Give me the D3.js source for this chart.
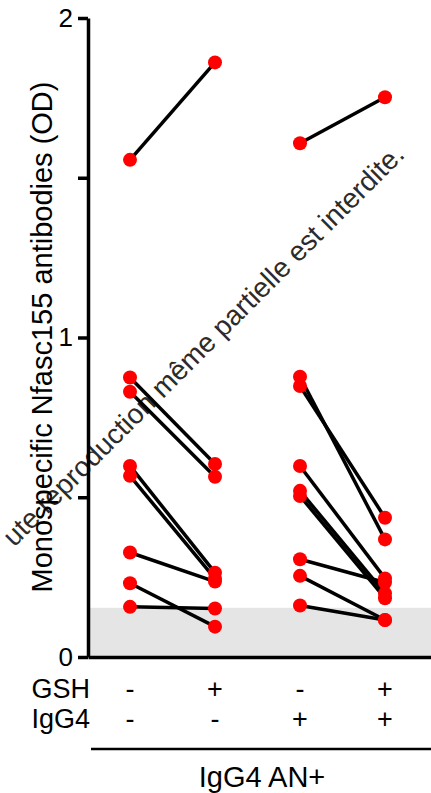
<!DOCTYPE html>
<html>

<head>
    <meta charset="utf-8">
    <title>Monospecific Nfasc155 antibodies</title>
    <script src="https://d3js.org/d3.v7.min.js"></script>
</head>

<body>
    <div id="svg-container"></div>
    <script>
        // conditions on the x axis
        const conditions = ["c1", "c2", "c3", "c4"]
        const gshRow = ["-", "+", "-", "+"]
        const igg4Row = ["-", "-", "+", "+"]

        // paired values (OD), without / with GSH
        const noIgG4Before = [1.556, 0.875, 0.830, 0.598, 0.567, 0.327, 0.231, 0.157]
        const noIgG4After = [1.861, 0.604, 0.564, 0.264, 0.245, 0.236, 0.095, 0.152]
        const igg4Before = [1.608, 0.877, 0.848, 0.598, 0.520, 0.504, 0.306, 0.254, 0.161]
        const igg4After = [1.752, 0.368, 0.436, 0.246, 0.199, 0.184, 0.233, 0.116, 0.116]

        const cutoff = 0.154
        const yTicks = [0, 0.5, 1, 1.5, 2]

        const w = 431
        const h = 793
        const font = "'Liberation Sans', Arial, sans-serif"

        const svg = d3.select("#svg-container").append("svg")
            .attr("width", w).attr("height", h)
            .style("font-family", font)

        const xScale = d3.scalePoint().domain(conditions).range([130, 385])
        const yScale = d3.scaleLinear().domain([0, 2]).range([657, 18])
        const xLine = d3.scaleLinear().domain([0, 1]).range([88, w])

        // grey band under the cut-off
        svg.append("rect")
            .attr("x", xLine(0))
            .attr("y", yScale(cutoff))
            .attr("width", xLine(1) - xLine(0))
            .attr("height", yScale(0) - yScale(cutoff))
            .style("fill", "#e5e5e5")

        // watermark
        svg.append("text")
            .attr("transform", "translate(406,156) rotate(-45)")
            .attr("text-anchor", "end")
            .style("font-size", "28px")
            .style("fill", "#2b2b2b")
            .text("ute reproduction même partielle est interdite.")

        const pairs = []
        noIgG4Before.forEach((v, i) => pairs.push({ a: "c1", b: "c2", va: v, vb: noIgG4After[i] }))
        igg4Before.forEach((v, i) => pairs.push({ a: "c3", b: "c4", va: v, vb: igg4After[i] }))

        svg.selectAll("line.pair")
            .data(pairs)
            .enter()
            .append("line")
            .attr("class", "pair")
            .attr("x1", d => xScale(d.a))
            .attr("y1", d => yScale(d.va))
            .attr("x2", d => xScale(d.b))
            .attr("y2", d => yScale(d.vb))
            .style("stroke", "black")
            .style("stroke-width", 3.5)

        const dots = []
        pairs.forEach(d => {
            dots.push({ c: d.a, v: d.va })
            dots.push({ c: d.b, v: d.vb })
        })

        svg.selectAll("circle")
            .data(dots)
            .enter()
            .append("circle")
            .attr("cx", d => xScale(d.c))
            .attr("cy", d => yScale(d.v))
            .attr("r", 7)
            .style("fill", "#ff0000")

        // axes
        const yAxis = d3.axisLeft(yScale)
            .tickValues(yTicks)
            .tickFormat(d => Number.isInteger(d) ? d : "")
            .tickSize(10)
            .tickSizeOuter(0)
            .tickPadding(5)

        const gy = svg.append("g")
            .attr("id", "y-axis")
            .attr("transform", "translate(" + xLine(0) + ",0)")
            .call(yAxis)
        gy.selectAll("path, line").style("stroke", "black").style("stroke-width", 3.5)
        gy.selectAll("text").style("font-size", "26px").style("font-family", font).style("fill", "black")

        const gx = svg.append("g")
            .attr("id", "x-axis")
            .attr("transform", "translate(0," + yScale(0) + ")")
            .call(d3.axisBottom(xLine).ticks(0).tickSizeOuter(0))
        gx.select("path").style("stroke", "black").style("stroke-width", 3.5)

        // condition rows
        svg.append("text").attr("x", 90).attr("y", 698).attr("text-anchor", "end")
            .style("font-size", "27px").text("GSH")
        svg.append("text").attr("x", 90).attr("y", 728).attr("text-anchor", "end")
            .style("font-size", "27px").text("IgG4")

        svg.selectAll("text.gsh")
            .data(conditions)
            .enter()
            .append("text")
            .attr("class", "gsh")
            .attr("x", d => xScale(d))
            .attr("y", 698)
            .attr("text-anchor", "middle")
            .style("font-size", "27px")
            .text((d, i) => gshRow[i])

        svg.selectAll("text.igg4")
            .data(conditions)
            .enter()
            .append("text")
            .attr("class", "igg4")
            .attr("x", d => xScale(d))
            .attr("y", 728)
            .attr("text-anchor", "middle")
            .style("font-size", "27px")
            .text((d, i) => igg4Row[i])

        svg.append("line")
            .attr("x1", 91).attr("x2", w)
            .attr("y1", 749).attr("y2", 749)
            .style("stroke", "black").style("stroke-width", 2.5)

        svg.append("text").attr("x", 262).attr("y", 787).attr("text-anchor", "middle")
            .style("font-size", "29px").text("IgG4 AN+")

        svg.append("text")
            .attr("transform", "translate(52,337) rotate(-90)")
            .attr("text-anchor", "middle")
            .style("font-size", "29px")
            .text("Monospecific Nfasc155 antibodies (OD)")
    </script>
</body>
<style>
    body {
        margin: 0;
        background: white;
    }

    #svg-container {
        width: 431px;
    }
</style>

</html>
